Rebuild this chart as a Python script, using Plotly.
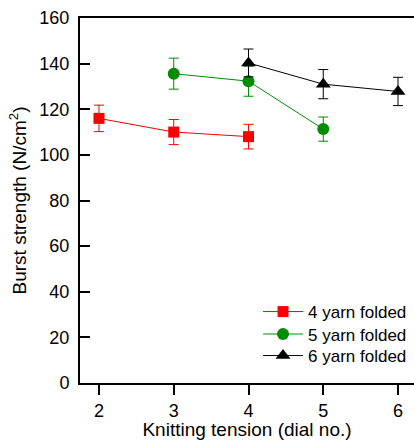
import plotly.graph_objects as go

# Knitting tension (dial no.) for each yarn group
tension_4 = [2, 3, 4]
tension_5 = [3, 4, 5]
tension_6 = [4, 5, 6]

# Burst strength means (N/cm^2)
burst_4 = [116, 110, 108]
burst_5 = [135.6, 132.3, 111.3]
burst_6 = [140.3, 131, 127.8]

# Error bar half-widths
err_4 = [5.8, 5.5, 5.4]
err_5 = [6.8, 6.6, 5.3]
err_6 = [6.1, 6.4, 6.2]

series = [
    ("4 yarn folded", tension_4, burst_4, err_4, "#ff0000", "square", 11, "legend"),
    ("5 yarn folded", tension_5, burst_5, err_5, "#008c00", "circle", 12, "legend2"),
    ("6 yarn folded", tension_6, burst_6, err_6, "#000000", "triangle-up", 13, "legend3"),
]

FONT = "Liberation Sans, Arial, sans-serif"

fig = go.Figure()
for name, x, y, e, color, symbol, size, leg in series:
    fig.add_trace(go.Scatter(
        x=x, y=y, name=name, mode="lines+markers",
        line=dict(color=color, width=1),
        marker=dict(symbol=symbol, size=size, color=color),
        error_y=dict(type="data", array=e, visible=True,
                     color=color, thickness=1, width=5),
        legend=leg,
    ))

# one legend box per row, stacked tightly in the lower right
def legend_box(ypos):
    return dict(
        x=0.533, y=ypos, xanchor="left", yanchor="middle",
        bgcolor="rgba(0,0,0,0)", font=dict(size=17),
        itemwidth=40, borderwidth=0,
    )

fig.update_layout(
    width=414, height=440,
    margin=dict(l=80, r=0, t=18, b=57, autoexpand=False),
    plot_bgcolor="white", paper_bgcolor="white",
    font=dict(family=FONT, size=18, color="black"),
    showlegend=True,
    legend=legend_box(0.1945),
    legend2=legend_box(0.133),
    legend3=legend_box(0.074),
    xaxis=dict(
        range=[1.746, 6.214], tickvals=[2, 3, 4, 5, 6],
        ticks="outside", ticklen=10, tickwidth=2, tickcolor="black",
        showline=True, linecolor="black", linewidth=2, mirror=True,
        showgrid=False, zeroline=False,
        title=dict(text="Knitting tension (dial no.)", font=dict(size=19), standoff=6),
    ),
    yaxis=dict(
        range=[0, 160], tickvals=[0, 20, 40, 60, 80, 100, 120, 140, 160],
        ticks="inside", ticklen=10, tickwidth=2, tickcolor="black",
        ticklabelstandoff=5,
        showline=True, linecolor="black", linewidth=2,
        showgrid=False, zeroline=False,
        title=dict(text="Burst strength (N/cm<sup>2</sup>)", font=dict(size=19), standoff=8),
    ),
)

fig.write_html("out.html")
